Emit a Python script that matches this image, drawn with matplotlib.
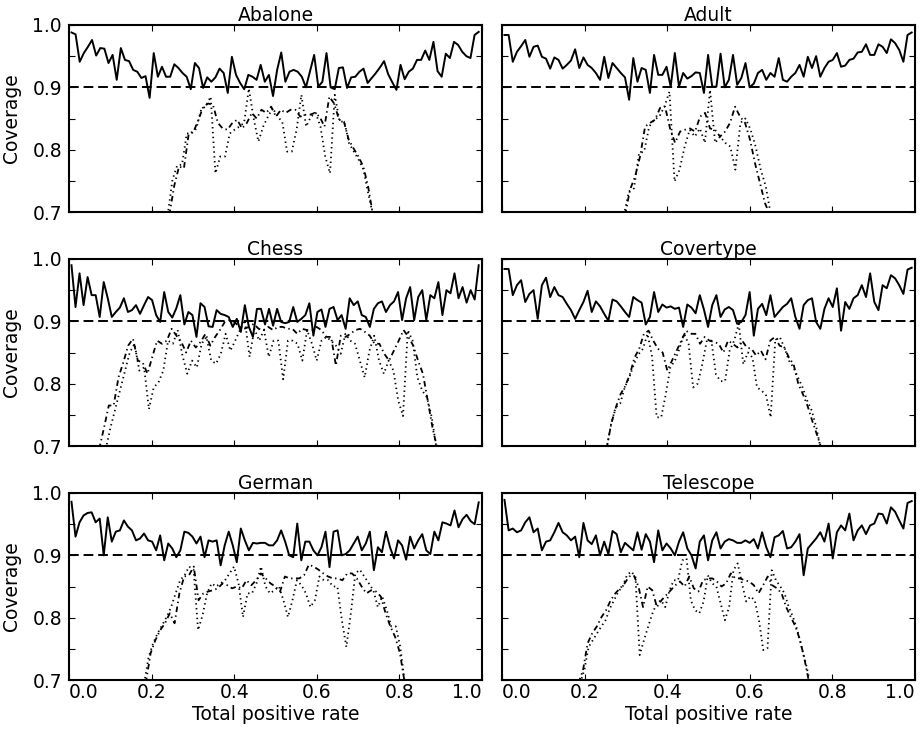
import numpy as np
import matplotlib
matplotlib.use("Agg")
import matplotlib.pyplot as plt

# ---- data (coverage vs total positive rate) ----
titles = ["Abalone", "Adult", "Chess", "Covertype", "German", "Telescope"]
target = 0.9

abalone_solid = [0.988, 0.985, 0.941, 0.955, 0.965, 0.976, 0.951, 0.963, 0.962, 0.939, 0.952, 0.912, 0.963,
                 0.944, 0.942, 0.928, 0.925, 0.915, 0.918, 0.883, 0.955, 0.917, 0.933, 0.917, 0.917, 0.937,
                 0.931, 0.923, 0.917, 0.897, 0.939, 0.931, 0.899, 0.916, 0.909, 0.916, 0.930, 0.923, 0.891,
                 0.949, 0.920, 0.907, 0.897, 0.920, 0.917, 0.912, 0.936, 0.909, 0.920, 0.886, 0.928, 0.956,
                 0.909, 0.925, 0.928, 0.925, 0.917, 0.900, 0.926, 0.952, 0.901, 0.909, 0.955, 0.900, 0.897,
                 0.931, 0.932, 0.899, 0.916, 0.917, 0.925, 0.930, 0.907, 0.915, 0.923, 0.932, 0.942, 0.921,
                 0.908, 0.896, 0.936, 0.913, 0.925, 0.930, 0.944, 0.944, 0.959, 0.944, 0.973, 0.926, 0.917,
                 0.954, 0.947, 0.973, 0.968, 0.957, 0.950, 0.947, 0.984, 0.989]
abalone_dot_span = (0.239, 0.736)
abalone_dot = [0.695, 0.752, 0.775, 0.776, 0.826, 0.826, 0.834, 0.864, 0.870, 0.885, 0.762, 0.789, 0.789,
               0.826, 0.832, 0.837, 0.843, 0.898, 0.850, 0.813, 0.837, 0.853, 0.867, 0.853, 0.845, 0.797,
               0.797, 0.832, 0.888, 0.837, 0.853, 0.859, 0.837, 0.789, 0.762, 0.888, 0.845, 0.845, 0.810,
               0.797, 0.784, 0.768, 0.730, 0.695]
abalone_dd_span = (0.243, 0.736)
abalone_dd = [0.695, 0.742, 0.773, 0.770, 0.826, 0.829, 0.848, 0.869, 0.874, 0.872, 0.843, 0.834, 0.832,
              0.843, 0.848, 0.834, 0.843, 0.859, 0.850, 0.864, 0.859, 0.869, 0.853, 0.864, 0.859, 0.864,
              0.864, 0.853, 0.856, 0.856, 0.859, 0.853, 0.837, 0.885, 0.874, 0.848, 0.845, 0.816, 0.802,
              0.789, 0.773, 0.741, 0.695]

adult_solid = [0.984, 0.984, 0.941, 0.957, 0.966, 0.976, 0.949, 0.965, 0.967, 0.949, 0.946, 0.930, 0.948,
               0.944, 0.930, 0.936, 0.943, 0.961, 0.931, 0.948, 0.936, 0.931, 0.923, 0.912, 0.949, 0.915,
               0.939, 0.931, 0.923, 0.916, 0.880, 0.947, 0.909, 0.931, 0.928, 0.891, 0.952, 0.920, 0.920,
               0.933, 0.901, 0.955, 0.901, 0.923, 0.914, 0.918, 0.924, 0.923, 0.891, 0.952, 0.901, 0.901,
               0.954, 0.900, 0.912, 0.952, 0.904, 0.915, 0.939, 0.900, 0.906, 0.923, 0.928, 0.912, 0.923,
               0.917, 0.947, 0.912, 0.909, 0.917, 0.923, 0.936, 0.917, 0.949, 0.931, 0.950, 0.917, 0.931,
               0.941, 0.944, 0.955, 0.933, 0.935, 0.944, 0.946, 0.956, 0.957, 0.969, 0.952, 0.952, 0.969,
               0.965, 0.955, 0.977, 0.971, 0.960, 0.941, 0.984, 0.988]
adult_dot_span = (0.295, 0.651)
adult_dot = [0.695, 0.733, 0.738, 0.794, 0.797, 0.837, 0.848, 0.853, 0.869, 0.893, 0.749, 0.768, 0.805,
             0.832, 0.821, 0.834, 0.811, 0.896, 0.811, 0.821, 0.811, 0.805, 0.768, 0.843, 0.850, 0.832,
             0.805, 0.768, 0.741, 0.695]
adult_dd_span = (0.298, 0.649)
adult_dd = [0.695, 0.736, 0.757, 0.789, 0.837, 0.843, 0.848, 0.867, 0.869, 0.834, 0.811, 0.829, 0.832,
            0.834, 0.829, 0.853, 0.859, 0.834, 0.832, 0.821, 0.829, 0.843, 0.869, 0.853, 0.843, 0.816,
            0.778, 0.746, 0.714, 0.695]

chess_solid = [0.990, 0.923, 0.977, 0.926, 0.971, 0.942, 0.942, 0.907, 0.963, 0.937, 0.907, 0.915, 0.922,
               0.937, 0.915, 0.918, 0.926, 0.912, 0.926, 0.939, 0.934, 0.910, 0.899, 0.947, 0.915, 0.906,
               0.921, 0.942, 0.895, 0.915, 0.910, 0.875, 0.929, 0.923, 0.892, 0.891, 0.918, 0.912, 0.910,
               0.907, 0.891, 0.904, 0.883, 0.926, 0.891, 0.875, 0.920, 0.920, 0.895, 0.920, 0.893, 0.920,
               0.899, 0.897, 0.899, 0.923, 0.899, 0.904, 0.910, 0.929, 0.877, 0.915, 0.919, 0.891, 0.920,
               0.923, 0.902, 0.910, 0.888, 0.937, 0.926, 0.932, 0.910, 0.907, 0.891, 0.920, 0.929, 0.932,
               0.915, 0.926, 0.932, 0.947, 0.902, 0.937, 0.955, 0.902, 0.939, 0.950, 0.902, 0.942, 0.937,
               0.963, 0.910, 0.950, 0.945, 0.977, 0.937, 0.955, 0.930, 0.950, 0.935, 0.990]
chess_dot_span = (0.089, 0.890)
chess_dot = [0.695, 0.730, 0.760, 0.790, 0.820, 0.850, 0.864, 0.821, 0.826, 0.759, 0.794, 0.802, 0.821,
             0.869, 0.864, 0.886, 0.845, 0.816, 0.837, 0.826, 0.864, 0.875, 0.837, 0.832, 0.848, 0.880,
             0.853, 0.869, 0.886, 0.902, 0.843, 0.888, 0.869, 0.886, 0.843, 0.869, 0.869, 0.807, 0.869,
             0.869, 0.864, 0.837, 0.886, 0.864, 0.837, 0.869, 0.875, 0.869, 0.861, 0.848, 0.880, 0.869,
             0.864, 0.837, 0.810, 0.853, 0.877, 0.837, 0.816, 0.837, 0.821, 0.773, 0.748, 0.886, 0.869,
             0.810, 0.789, 0.778, 0.746, 0.695]
chess_dd_span = (0.073, 0.892)
chess_dd = [0.695, 0.729, 0.765, 0.765, 0.810, 0.834, 0.861, 0.872, 0.837, 0.834, 0.816, 0.843, 0.869,
            0.864, 0.869, 0.888, 0.877, 0.867, 0.850, 0.869, 0.858, 0.867, 0.880, 0.861, 0.875, 0.886,
            0.899, 0.902, 0.899, 0.891, 0.888, 0.891, 0.896, 0.888, 0.886, 0.891, 0.886, 0.891, 0.891,
            0.888, 0.888, 0.880, 0.888, 0.886, 0.886, 0.891, 0.886, 0.875, 0.875, 0.829, 0.877, 0.875,
            0.880, 0.886, 0.888, 0.883, 0.877, 0.864, 0.864, 0.848, 0.837, 0.853, 0.869, 0.886, 0.875,
            0.861, 0.837, 0.816, 0.773, 0.729, 0.695]

covertype_solid = [0.984, 0.984, 0.942, 0.958, 0.966, 0.931, 0.944, 0.950, 0.904, 0.958, 0.970, 0.939,
                   0.955, 0.942, 0.939, 0.928, 0.918, 0.904, 0.918, 0.931, 0.949, 0.915, 0.932, 0.924,
                   0.912, 0.901, 0.935, 0.932, 0.924, 0.915, 0.907, 0.939, 0.934, 0.930, 0.895, 0.907,
                   0.947, 0.915, 0.927, 0.922, 0.924, 0.920, 0.922, 0.891, 0.927, 0.922, 0.913, 0.942,
                   0.919, 0.891, 0.926, 0.942, 0.907, 0.919, 0.923, 0.918, 0.896, 0.899, 0.910, 0.947,
                   0.877, 0.920, 0.928, 0.910, 0.942, 0.907, 0.915, 0.923, 0.928, 0.937, 0.907, 0.888,
                   0.926, 0.934, 0.937, 0.899, 0.888, 0.920, 0.937, 0.923, 0.953, 0.885, 0.931, 0.920,
                   0.937, 0.942, 0.958, 0.939, 0.977, 0.931, 0.918, 0.958, 0.953, 0.974, 0.969, 0.958,
                   0.944, 0.983, 0.986]
covertype_dot_span = (0.253, 0.772)
covertype_dot = [0.695, 0.735, 0.762, 0.768, 0.794, 0.810, 0.831, 0.847, 0.856, 0.880, 0.843, 0.746,
                 0.746, 0.783, 0.826, 0.837, 0.856, 0.880, 0.864, 0.794, 0.800, 0.831, 0.869, 0.869,
                 0.815, 0.804, 0.804, 0.853, 0.869, 0.896, 0.831, 0.850, 0.842, 0.794, 0.789, 0.781,
                 0.746, 0.869, 0.875, 0.858, 0.837, 0.826, 0.810, 0.794, 0.773, 0.757, 0.730, 0.695]
covertype_dd_span = (0.253, 0.774)
covertype_dd = [0.695, 0.735, 0.762, 0.783, 0.796, 0.815, 0.842, 0.856, 0.880, 0.885, 0.869, 0.856,
                0.850, 0.821, 0.837, 0.853, 0.869, 0.885, 0.880, 0.880, 0.864, 0.875, 0.869, 0.867,
                0.864, 0.850, 0.869, 0.864, 0.858, 0.869, 0.858, 0.856, 0.845, 0.853, 0.839, 0.869,
                0.875, 0.861, 0.858, 0.842, 0.831, 0.800, 0.783, 0.764, 0.740, 0.718, 0.695]

german_solid = [0.986, 0.930, 0.953, 0.964, 0.968, 0.969, 0.953, 0.959, 0.900, 0.961, 0.922, 0.938, 0.940,
                0.956, 0.946, 0.940, 0.924, 0.927, 0.935, 0.924, 0.922, 0.908, 0.932, 0.892, 0.919, 0.911,
                0.897, 0.908, 0.938, 0.936, 0.930, 0.919, 0.930, 0.897, 0.924, 0.922, 0.924, 0.884, 0.916,
                0.938, 0.916, 0.889, 0.943, 0.924, 0.908, 0.920, 0.919, 0.920, 0.920, 0.916, 0.916, 0.924,
                0.940, 0.922, 0.900, 0.897, 0.951, 0.892, 0.922, 0.922, 0.908, 0.900, 0.913, 0.938, 0.881,
                0.938, 0.940, 0.900, 0.902, 0.908, 0.919, 0.930, 0.908, 0.919, 0.938, 0.876, 0.913, 0.905,
                0.938, 0.913, 0.895, 0.924, 0.916, 0.893, 0.930, 0.911, 0.924, 0.934, 0.908, 0.902, 0.938,
                0.924, 0.953, 0.951, 0.948, 0.972, 0.945, 0.958, 0.965, 0.955, 0.950, 0.985]
german_dot_span = (0.182, 0.813)
german_dot = [0.695, 0.737, 0.759, 0.775, 0.788, 0.801, 0.817, 0.839, 0.860, 0.868, 0.882, 0.877, 0.780,
              0.804, 0.839, 0.855, 0.850, 0.855, 0.860, 0.871, 0.882, 0.855, 0.801, 0.839, 0.839, 0.855,
              0.882, 0.850, 0.839, 0.844, 0.850, 0.828, 0.801, 0.828, 0.860, 0.852, 0.839, 0.817, 0.828,
              0.866, 0.860, 0.860, 0.850, 0.850, 0.796, 0.753, 0.807, 0.871, 0.877, 0.866, 0.855, 0.844,
              0.817, 0.834, 0.812, 0.786, 0.786, 0.753, 0.695]
german_dd_span = (0.186, 0.813)
german_dd = [0.695, 0.743, 0.764, 0.780, 0.791, 0.807, 0.791, 0.839, 0.866, 0.868, 0.882, 0.828, 0.839,
             0.842, 0.844, 0.847, 0.855, 0.852, 0.847, 0.850, 0.847, 0.860, 0.852, 0.860, 0.871, 0.863,
             0.855, 0.850, 0.842, 0.866, 0.863, 0.863, 0.863, 0.868, 0.885, 0.882, 0.877, 0.871, 0.866,
             0.863, 0.863, 0.860, 0.871, 0.871, 0.863, 0.850, 0.839, 0.844, 0.842, 0.834, 0.807, 0.786,
             0.769, 0.743, 0.695]

telescope_solid = [0.989, 0.940, 0.943, 0.937, 0.940, 0.953, 0.961, 0.937, 0.943, 0.908, 0.922, 0.924,
                   0.937, 0.952, 0.937, 0.932, 0.924, 0.930, 0.897, 0.952, 0.924, 0.918, 0.932, 0.900,
                   0.922, 0.902, 0.939, 0.934, 0.905, 0.920, 0.914, 0.908, 0.937, 0.909, 0.934, 0.922,
                   0.889, 0.940, 0.908, 0.919, 0.911, 0.900, 0.922, 0.937, 0.911, 0.900, 0.879, 0.922,
                   0.932, 0.892, 0.924, 0.937, 0.911, 0.922, 0.926, 0.924, 0.920, 0.920, 0.924, 0.920,
                   0.926, 0.911, 0.937, 0.913, 0.897, 0.929, 0.932, 0.939, 0.911, 0.913, 0.922, 0.934,
                   0.868, 0.911, 0.919, 0.927, 0.937, 0.922, 0.951, 0.895, 0.937, 0.948, 0.940, 0.967,
                   0.924, 0.940, 0.948, 0.934, 0.948, 0.951, 0.967, 0.966, 0.951, 0.977, 0.970, 0.956,
                   0.943, 0.984, 0.987]
telescope_dot_span = (0.189, 0.746)
telescope_dot = [0.695, 0.716, 0.753, 0.764, 0.775, 0.786, 0.796, 0.815, 0.828, 0.842, 0.850, 0.868,
                 0.874, 0.866, 0.740, 0.764, 0.786, 0.807, 0.823, 0.828, 0.817, 0.844, 0.860, 0.860,
                 0.892, 0.895, 0.828, 0.812, 0.807, 0.826, 0.868, 0.855, 0.850, 0.823, 0.796, 0.817,
                 0.876, 0.887, 0.855, 0.826, 0.834, 0.828, 0.796, 0.748, 0.751, 0.876, 0.860, 0.850,
                 0.839, 0.817, 0.801, 0.780, 0.753, 0.727, 0.695]
telescope_dd_span = (0.185, 0.744)
telescope_dd = [0.695, 0.716, 0.759, 0.775, 0.786, 0.801, 0.812, 0.828, 0.839, 0.847, 0.855, 0.866,
                0.868, 0.850, 0.817, 0.850, 0.844, 0.817, 0.828, 0.836, 0.844, 0.852, 0.858, 0.850,
                0.866, 0.847, 0.842, 0.860, 0.863, 0.863, 0.858, 0.850, 0.855, 0.871, 0.863, 0.863,
                0.860, 0.858, 0.852, 0.839, 0.852, 0.866, 0.852, 0.847, 0.839, 0.817, 0.801, 0.786,
                0.764, 0.732, 0.695]

solids = [abalone_solid, adult_solid, chess_solid, covertype_solid, german_solid, telescope_solid]
dots = [(abalone_dot_span, abalone_dot), (adult_dot_span, adult_dot), (chess_dot_span, chess_dot),
        (covertype_dot_span, covertype_dot), (german_dot_span, german_dot),
        (telescope_dot_span, telescope_dot)]
dashdots = [(abalone_dd_span, abalone_dd), (adult_dd_span, adult_dd), (chess_dd_span, chess_dd),
            (covertype_dd_span, covertype_dd), (german_dd_span, german_dd),
            (telescope_dd_span, telescope_dd)]

xtick_vals = [0.0, 0.2, 0.4, 0.6, 0.8, 1.0]
ytick_vals = [0.7, 0.75, 0.8, 0.85, 0.9, 0.95, 1.0]
ytick_labels = ["0.7", "", "0.8", "", "0.9", "", "1.0"]

# ---- style ----
plt.rcParams["font.family"] = ["DejaVu Sans"]
plt.rcParams["font.size"] = 13.5
plt.rcParams["axes.linewidth"] = 1.5
plt.rcParams["lines.scale_dashes"] = False
for a in ("xtick", "ytick"):
    plt.rcParams[a + ".direction"] = "in"
    plt.rcParams[a + ".major.size"] = 4.5
    plt.rcParams[a + ".major.width"] = 0.8
plt.rcParams["xtick.top"] = True
plt.rcParams["ytick.right"] = True

W, H = 923, 731
fig = plt.figure(figsize=(W / 100, H / 100), dpi=100)

lefts = [69, 502]
tops = [25, 259, 493]
aw, ah = 413, 187

for i, title in enumerate(titles):
    r, c = divmod(i, 2)
    ax = fig.add_axes([lefts[c] / W, 1 - (tops[r] + ah) / H, aw / W, ah / H])

    ys = solids[i]
    ax.plot(np.linspace(0.006, 0.992, len(ys)), ys, color="black", lw=1.4)
    ax.axhline(target, color="black", lw=1.4, dashes=(7, 3.5))
    (x0, x1), yd = dots[i]
    ax.plot(np.linspace(x0, x1, len(yd)), yd, color="black", lw=1.3, dashes=(1, 2.5))
    (x0, x1), ydd = dashdots[i]
    ax.plot(np.linspace(x0, x1, len(ydd)), ydd, color="black", lw=1.3, dashes=(4, 2.5, 1, 2.5))

    ax.set_xlim(0, 1)
    ax.set_ylim(0.7, 1.0)
    ax.set_title(title, fontsize=13.5, pad=3)
    ax.set_yticks(ytick_vals)
    ax.set_xticks(xtick_vals)
    ax.tick_params(axis="y", pad=5)
    ax.tick_params(axis="x", pad=2)
    if c == 0:
        ax.set_yticklabels(ytick_labels)
        ax.set_ylabel("Coverage", labelpad=8)
    else:
        ax.set_yticklabels([])
    if r == 2:
        ax.set_xticklabels(["%.1f" % v for v in xtick_vals])
        labs = ax.get_xticklabels()
        labs[0].set_ha("left")
        labs[-1].set_ha("right")
        ax.set_xlabel("Total positive rate", labelpad=2)
    else:
        ax.set_xticklabels([])

fig.savefig("out.png", dpi=100)
